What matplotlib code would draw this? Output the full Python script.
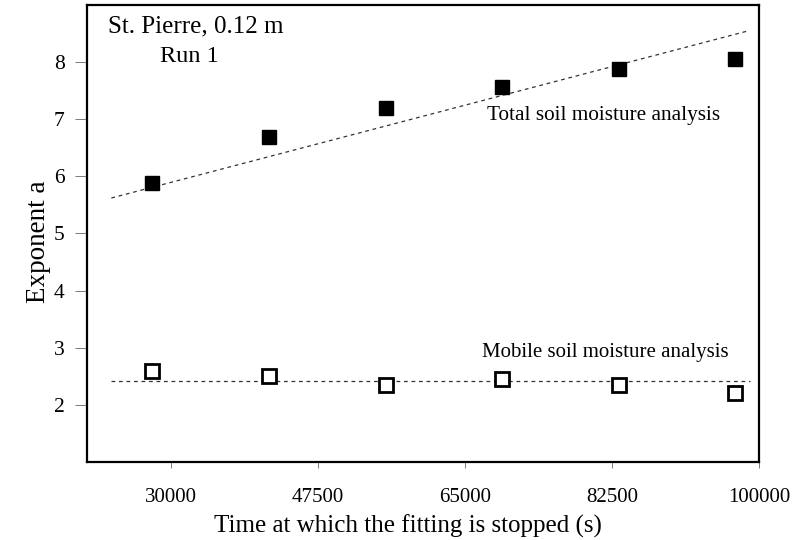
import matplotlib as mpl
mpl.use('Agg')
import matplotlib.pyplot as plt

## Data

stop_time = [27800, 41700, 55600, 69400, 83300, 97200]
total_a = [5.88, 6.68, 7.20, 7.57, 7.87, 8.06]
mobile_a = [2.60, 2.51, 2.35, 2.45, 2.34, 2.20]

# fitted lines, end points
trend_t = [22900, 98600]
total_trend = [5.62, 8.54]
mobile_t = [22900, 98900]
mobile_trend = [2.41, 2.41]

xticks = [30000, 47500, 65000, 82500, 100000]
yticks = [2, 3, 4, 5, 6, 7, 8]

## Plot

plt.rcParams['font.family'] = ['Liberation Serif', 'DejaVu Serif']

fig = plt.figure(figsize=(7.98, 5.40), dpi=100)
ax = fig.add_axes([0.109, 0.1444, 0.842, 0.8466])

ax.plot(trend_t, total_trend, color='#333333', lw=0.9, dashes=(3, 3))
ax.plot(mobile_t, mobile_trend, color='#333333', lw=0.9, dashes=(3, 3))

ax.plot(stop_time, total_a, 's', color='black', ms=9.5, ls='none')
ax.plot(stop_time, mobile_a, 's', mfc='white', mec='black', mew=2, ms=10, ls='none')

ax.set_xlim(20000, 100000)
ax.set_ylim(1, 9)
ax.set_xticks(xticks)
ax.set_yticks(yticks)
ax.set_xticklabels([str(t) for t in xticks])
ax.tick_params(axis='x', direction='out', length=4, width=0.6, color='#666666',
               pad=15, labelsize=15)
ax.tick_params(axis='y', direction='out', length=9, width=0.6, color='#666666',
               pad=7, labelsize=15.5)
for s in ax.spines.values():
    s.set_linewidth(1.6)

ax.set_xlabel('Time at which the fitting is stopped (s)', fontsize=18)
ax.set_ylabel('Exponent a', fontsize=19.5)
ax.xaxis.set_label_coords(0.478, -0.116)
ax.yaxis.set_label_coords(-0.054, 0.482)

ax.text(0.162, 0.952, 'St. Pierre, 0.12 m', transform=ax.transAxes,
        ha='center', va='center', fontsize=18)
ax.text(0.152, 0.886, 'Run 1', transform=ax.transAxes,
        ha='center', va='center', fontsize=17.5)
ax.text(0.595, 0.757, 'Total soil moisture analysis', transform=ax.transAxes,
        ha='left', va='center', fontsize=15.3)
ax.text(0.588, 0.239, 'Mobile soil moisture analysis', transform=ax.transAxes,
        ha='left', va='center', fontsize=15)

plt.savefig('out.png', dpi=100)
